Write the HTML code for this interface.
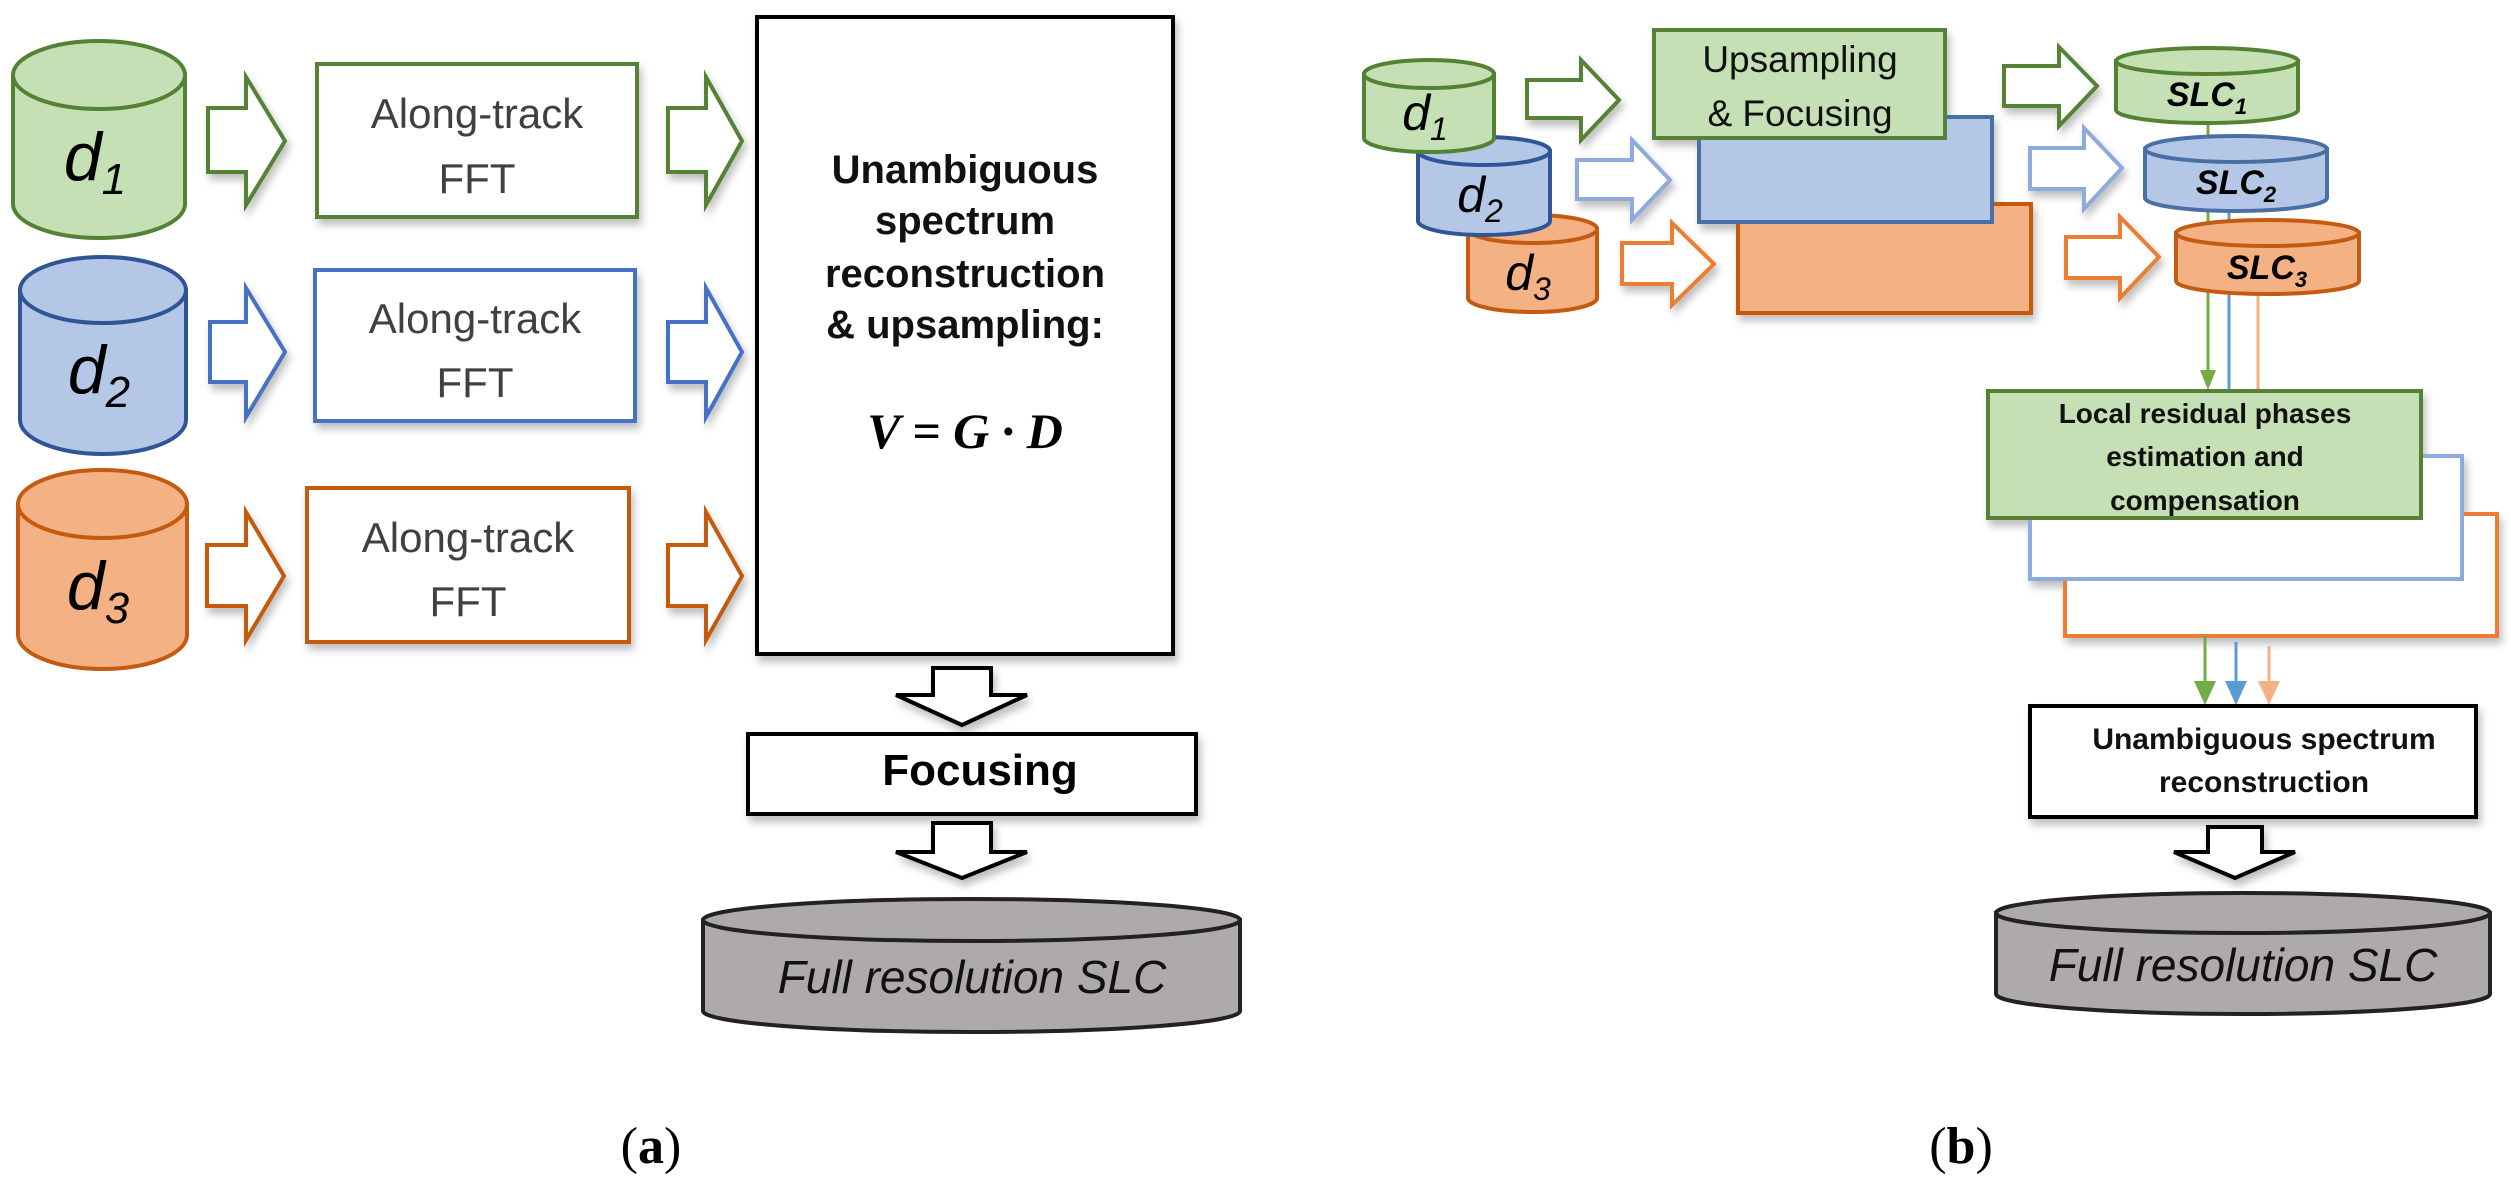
<!DOCTYPE html>
<html><head><meta charset="utf-8">
<style>
html,body{margin:0;padding:0;background:#fff;}
svg{display:block;}
text{font-family:"Liberation Sans",sans-serif;}
text.serif{font-family:"Liberation Serif",serif;}
</style></head>
<body>
<svg width="2511" height="1189" viewBox="0 0 2511 1189" xmlns="http://www.w3.org/2000/svg">
<defs>
<filter id="sh" x="-10%" y="-10%" width="130%" height="140%">
<feDropShadow dx="3" dy="6" stdDeviation="4" flood-color="#000" flood-opacity="0.25"/>
</filter>
</defs>

<!-- ===== (a) ===== -->
<g stroke="#548235" stroke-width="4" fill="#c5e0b4">
<path d="M13,75 V204 A86,34 0 0 0 185,204 V75 Z"/>
<ellipse cx="99" cy="75" rx="86" ry="34"/>
</g>
<text x="95" y="180" font-size="68" font-style="italic" text-anchor="middle">d<tspan font-size="44" dy="14">1</tspan></text>
<g stroke="#2f5597" stroke-width="4" fill="#b4c7e7">
<path d="M20,290 V420 A83,34 0 0 0 186,420 V290 Z"/>
<ellipse cx="103" cy="290" rx="83" ry="33"/>
</g>
<text x="99" y="393" font-size="68" font-style="italic" text-anchor="middle">d<tspan font-size="44" dy="14">2</tspan></text>
<g stroke="#c55a11" stroke-width="4" fill="#f4b183">
<path d="M18,504 V635 A84.5,34 0 0 0 187,635 V504 Z"/>
<ellipse cx="102.5" cy="504" rx="84.5" ry="34"/>
</g>
<text x="98" y="609" font-size="68" font-style="italic" text-anchor="middle">d<tspan font-size="44" dy="14">3</tspan></text>

<g fill="#fff" stroke-width="4" filter="url(#sh)">
<polygon stroke="#548235" points="208,108 246,108 246,77 285,141 246,205 246,172 208,172"/>
<polygon stroke="#4472c4" points="210,322 246,322 246,288 285,352 246,417 246,382 210,382"/>
<polygon stroke="#c55a11" points="207,545 246,545 246,512 284,576 246,640 246,606 207,606"/>
<polygon stroke="#548235" points="668,108 706,108 706,77 742,141 706,205 706,172 668,172"/>
<polygon stroke="#4472c4" points="668,322 706,322 706,288 742,352 706,417 706,382 668,382"/>
<polygon stroke="#c55a11" points="668,545 706,545 706,512 742,576 706,640 706,606 668,606"/>
</g>

<g fill="#fff" stroke-width="4" filter="url(#sh)">
<rect x="317" y="64" width="320" height="153" stroke="#548235"/>
<rect x="315" y="270" width="320" height="151" stroke="#4472c4"/>
<rect x="307" y="488" width="322" height="154" stroke="#c55a11"/>
</g>
<g font-size="42" fill="#404040" text-anchor="middle">
<text x="477" y="128">Along-track</text><text x="477" y="193">FFT</text>
<text x="475" y="333">Along-track</text><text x="475" y="397">FFT</text>
<text x="468" y="552">Along-track</text><text x="468" y="616">FFT</text>
</g>

<rect x="757" y="17" width="416" height="637" fill="#fff" stroke="#000" stroke-width="4" filter="url(#sh)"/>
<g font-size="40" font-weight="bold" text-anchor="middle" fill="#111">
<text x="965" y="183">Unambiguous</text>
<text x="965" y="234">spectrum</text>
<text x="965" y="287">reconstruction</text>
<text x="965" y="338">&amp; upsampling:</text>
</g>
<text class="serif" x="965" y="448" font-size="50" font-weight="bold" font-style="italic" text-anchor="middle">V = G · D</text>

<g fill="#fff" stroke="#000" stroke-width="4" filter="url(#sh)">
<polygon points="933,668 991,668 991,695 1027,695 962,725 896,695 933,695"/>
</g>
<rect x="748" y="734" width="448" height="80" fill="#fff" stroke="#000" stroke-width="4" filter="url(#sh)"/>
<text x="980" y="785" font-size="44" font-weight="bold" text-anchor="middle">Focusing</text>
<g fill="#fff" stroke="#000" stroke-width="4" filter="url(#sh)">
<polygon points="933,823 991,823 991,852 1027,852 962,878 896,852 933,852"/>
</g>
<g stroke="#222" stroke-width="4" fill="#aeaaaa">
<path d="M703,920 V1011 A268.5,21 0 0 0 1240,1011 V920 Z"/>
<ellipse cx="971.5" cy="920" rx="268.5" ry="21"/>
</g>
<text x="972" y="993" font-size="46" font-style="italic" text-anchor="middle" fill="#111">Full resolution SLC</text>
<text class="serif" x="651" y="1163" font-size="52" text-anchor="middle">(<tspan font-weight="bold">a</tspan>)</text>

<!-- ===== (b) ===== -->
<g stroke="#c55a11" stroke-width="4" fill="#f4b183">
<path d="M1468,229 V298 A64.5,14 0 0 0 1597,298 V229 Z"/>
<ellipse cx="1532.5" cy="229" rx="64.5" ry="14"/>
</g>
<text x="1528" y="290" font-size="50" font-style="italic" text-anchor="middle">d<tspan font-size="32" dy="10">3</tspan></text>
<g stroke="#2f5597" stroke-width="4" fill="#b4c7e7">
<path d="M1418,151 V221 A66,14 0 0 0 1550,221 V151 Z"/>
<ellipse cx="1484" cy="151" rx="66" ry="14"/>
</g>
<text x="1480" y="212" font-size="50" font-style="italic" text-anchor="middle">d<tspan font-size="32" dy="10">2</tspan></text>
<g stroke="#548235" stroke-width="4" fill="#c5e0b4">
<path d="M1364,74 V138 A65,14 0 0 0 1494,138 V74 Z"/>
<ellipse cx="1429" cy="74" rx="65" ry="14"/>
</g>
<text x="1425" y="130" font-size="50" font-style="italic" text-anchor="middle">d<tspan font-size="32" dy="10">1</tspan></text>

<g fill="#fff" stroke-width="4" filter="url(#sh)">
<polygon stroke="#548235" points="1527,80 1581,80 1581,60 1619,100 1581,140 1581,118 1527,118"/>
<polygon stroke="#8faadc" points="1577,160 1632,160 1632,140 1670,180 1632,220 1632,199 1577,199"/>
<polygon stroke="#ed7d31" points="1622,243 1672,243 1672,223 1714,264 1672,305 1672,284 1622,284"/>
<polygon stroke="#548235" points="2004,66 2059,66 2059,47 2097,86 2059,126 2059,106 2004,106"/>
<polygon stroke="#8faadc" points="2030,148 2084,148 2084,128 2122,168 2084,209 2084,189 2030,189"/>
<polygon stroke="#ed7d31" points="2066,237 2120,237 2120,217 2159,257 2120,298 2120,278 2066,278"/>
</g>

<g stroke-width="4" filter="url(#sh)">
<rect x="1738" y="204" width="293" height="109" fill="#f4b183" stroke="#c55a11"/>
<rect x="1699" y="117" width="293" height="105" fill="#b4c7e7" stroke="#4a6fa5"/>
<rect x="1654" y="30" width="291" height="108" fill="#c5e0b4" stroke="#548235"/>
</g>
<g font-size="37" text-anchor="middle" fill="#111">
<text x="1800" y="72">Upsampling</text>
<text x="1800" y="126">&amp; Focusing</text>
</g>

<line x1="2208" y1="120" x2="2208" y2="372" stroke="#70ad47" stroke-width="3"/>
<polygon points="2200,370 2216,370 2208,390" fill="#70ad47"/>
<line x1="2229" y1="208" x2="2229" y2="391" stroke="#5b9bd5" stroke-width="3"/>
<line x1="2258" y1="292" x2="2258" y2="391" stroke="#f4b183" stroke-width="3"/>

<g stroke="#548235" stroke-width="4" fill="#c5e0b4">
<path d="M2116,61 V110 A91,13 0 0 0 2298,110 V61 Z"/>
<ellipse cx="2207" cy="61" rx="91" ry="13"/>
</g>
<text x="2207" y="106" font-size="34" font-weight="bold" font-style="italic" text-anchor="middle">SLC<tspan font-size="22" dy="8">1</tspan></text>
<g stroke="#4a6fa5" stroke-width="4" fill="#b4c7e7">
<path d="M2145,149 V198 A91,13 0 0 0 2327,198 V149 Z"/>
<ellipse cx="2236" cy="149" rx="91" ry="13"/>
</g>
<text x="2236" y="194" font-size="34" font-weight="bold" font-style="italic" text-anchor="middle">SLC<tspan font-size="22" dy="8">2</tspan></text>
<g stroke="#c55a11" stroke-width="4" fill="#f4b183">
<path d="M2176,233 V281 A91.5,13 0 0 0 2359,281 V233 Z"/>
<ellipse cx="2267.5" cy="233" rx="91.5" ry="13"/>
</g>
<text x="2267" y="279" font-size="34" font-weight="bold" font-style="italic" text-anchor="middle">SLC<tspan font-size="22" dy="8">3</tspan></text>

<g stroke-width="4" filter="url(#sh)">
<rect x="2065" y="514" width="432" height="122" fill="#fff" stroke="#ed7d31"/>
<rect x="2030" y="456" width="432" height="123" fill="#fff" stroke="#8faadc"/>
<rect x="1988" y="391" width="433" height="127" fill="#c5e0b4" stroke="#548235"/>
</g>
<g font-size="28" font-weight="bold" text-anchor="middle" fill="#111">
<text x="2205" y="423">Local residual phases</text>
<text x="2205" y="466">estimation and</text>
<text x="2205" y="510">compensation</text>
</g>

<g stroke-width="3">
<line x1="2205" y1="636" x2="2205" y2="685" stroke="#70ad47"/>
<line x1="2236" y1="642" x2="2236" y2="685" stroke="#5b9bd5"/>
<line x1="2269" y1="646" x2="2269" y2="685" stroke="#f4b183"/>
</g>
<polygon points="2194,681 2216,681 2205,705" fill="#70ad47"/>
<polygon points="2225,681 2247,681 2236,705" fill="#5b9bd5"/>
<polygon points="2258,681 2280,681 2269,705" fill="#f4b183"/>

<rect x="2030" y="706" width="446" height="111" fill="#fff" stroke="#000" stroke-width="4" filter="url(#sh)"/>
<g font-size="30" font-weight="bold" text-anchor="middle" fill="#111">
<text x="2264" y="749">Unambiguous spectrum</text>
<text x="2264" y="792">reconstruction</text>
</g>
<polygon points="2208,827 2262,827 2262,852 2295,852 2235,878 2174,852 2208,852" fill="#fff" stroke="#000" stroke-width="4" filter="url(#sh)"/>
<g stroke="#222" stroke-width="4" fill="#aeaaaa">
<path d="M1996,913 V994 A247,20 0 0 0 2490,994 V913 Z"/>
<ellipse cx="2243" cy="913" rx="247" ry="20"/>
</g>
<text x="2243" y="981" font-size="46" font-style="italic" text-anchor="middle" fill="#111">Full resolution SLC</text>
<text class="serif" x="1961" y="1163" font-size="52" text-anchor="middle">(<tspan font-weight="bold">b</tspan>)</text>
</svg>
</body></html>
